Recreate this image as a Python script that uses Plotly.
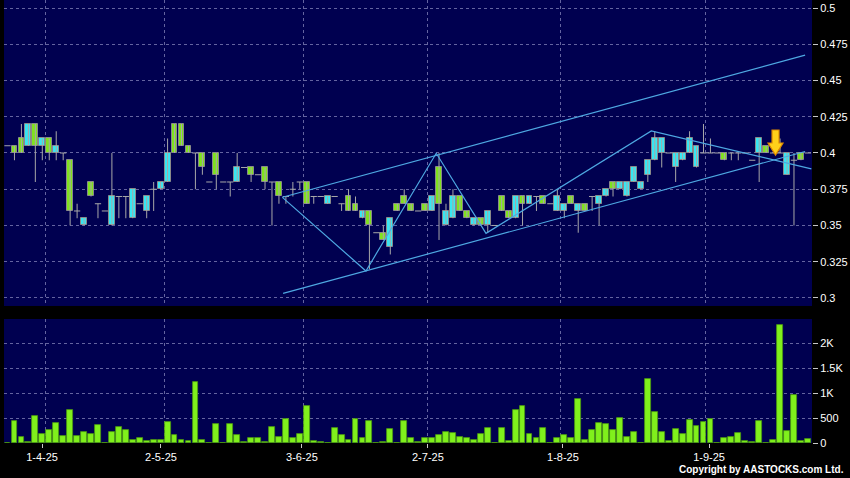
import plotly.graph_objects as go

# ---------------- data (bar index 0..115) ----------------
opens = [0.405, 0.405, 0.41, 0.405, 0.42, 0.405, 0.41, 0.40, 0.40, 0.395,
         0.36, 0.35, 0.38, 0.365, 0.36, 0.35, 0.37, 0.37, 0.355, 0.365,
         0.36, 0.375, 0.375, 0.38, 0.42, 0.42, 0.405, 0.40, 0.40, 0.38,
         0.40, 0.38, 0.38, 0.38, 0.39, 0.39, 0.385, 0.39, 0.38, 0.38,
         0.37, 0.375, 0.38, 0.38, 0.37, 0.37, 0.365, 0.37, 0.365, 0.37,
         0.365, 0.355, 0.36, 0.345, 0.345, 0.335, 0.365, 0.37, 0.365, 0.36,
         0.365, 0.36, 0.39, 0.35, 0.355, 0.37, 0.36, 0.35, 0.355, 0.35,
         0.35, 0.37, 0.36, 0.355, 0.37, 0.365, 0.37, 0.37, 0.365, 0.36,
         0.36, 0.37, 0.36, 0.365, 0.37, 0.365, 0.37, 0.38, 0.375, 0.37,
         0.38, 0.375, 0.385, 0.395, 0.40, 0.40, 0.39, 0.395, 0.40, 0.39,
         0.40, 0.40, 0.40, 0.40, 0.40, 0.40, 0.40, 0.395, 0.40, 0.405,
         0.40, 0.40, 0.385, 0.395, 0.40, 0.40]
closes = [0.405, 0.40, 0.40, 0.42, 0.405, 0.41, 0.40, 0.405, 0.40, 0.36,
          0.36, 0.355, 0.37, 0.365, 0.36, 0.37, 0.37, 0.37, 0.375, 0.365,
          0.37, 0.375, 0.38, 0.40, 0.40, 0.405, 0.40, 0.40, 0.39, 0.38,
          0.385, 0.38, 0.38, 0.39, 0.39, 0.385, 0.385, 0.38, 0.38, 0.37,
          0.37, 0.375, 0.38, 0.365, 0.37, 0.37, 0.37, 0.37, 0.365, 0.36,
          0.36, 0.36, 0.35, 0.345, 0.34, 0.355, 0.36, 0.365, 0.36, 0.36,
          0.36, 0.37, 0.365, 0.36, 0.37, 0.36, 0.355, 0.355, 0.35, 0.36,
          0.35, 0.36, 0.355, 0.37, 0.365, 0.37, 0.37, 0.365, 0.365, 0.37,
          0.365, 0.365, 0.365, 0.36, 0.37, 0.37, 0.375, 0.375, 0.38, 0.38,
          0.39, 0.38, 0.395, 0.41, 0.41, 0.40, 0.40, 0.40, 0.41, 0.405,
          0.40, 0.40, 0.40, 0.395, 0.40, 0.40, 0.40, 0.395, 0.41, 0.40,
          0.40, 0.40, 0.40, 0.395, 0.395, 0.40]
highs = [0.405, 0.405, 0.42, 0.42, 0.42, 0.41, 0.41, 0.415, 0.40, 0.395,
         0.365, 0.355, 0.38, 0.365, 0.36, 0.40, 0.37, 0.37, 0.375, 0.365,
         0.37, 0.38, 0.38, 0.41, 0.42, 0.42, 0.405, 0.40, 0.40, 0.38,
         0.40, 0.38, 0.38, 0.40, 0.39, 0.39, 0.385, 0.39, 0.38, 0.38,
         0.37, 0.38, 0.38, 0.38, 0.37, 0.37, 0.37, 0.37, 0.365, 0.375,
         0.37, 0.36, 0.36, 0.345, 0.35, 0.355, 0.365, 0.375, 0.365, 0.36,
         0.365, 0.37, 0.40, 0.365, 0.375, 0.37, 0.36, 0.355, 0.355, 0.36,
         0.35, 0.37, 0.36, 0.37, 0.37, 0.37, 0.37, 0.37, 0.365, 0.375,
         0.365, 0.37, 0.365, 0.365, 0.37, 0.37, 0.375, 0.38, 0.38, 0.38,
         0.39, 0.38, 0.395, 0.415, 0.41, 0.40, 0.40, 0.40, 0.415, 0.405,
         0.42, 0.41, 0.40, 0.40, 0.40, 0.40, 0.40, 0.395, 0.41, 0.405,
         0.40, 0.41, 0.40, 0.40, 0.40, 0.40]
lows = [0.405, 0.395, 0.40, 0.405, 0.38, 0.395, 0.395, 0.395, 0.395, 0.35,
        0.355, 0.35, 0.37, 0.355, 0.36, 0.35, 0.355, 0.355, 0.355, 0.365,
        0.355, 0.36, 0.375, 0.38, 0.40, 0.405, 0.40, 0.375, 0.385, 0.38,
        0.375, 0.38, 0.37, 0.38, 0.39, 0.38, 0.385, 0.375, 0.35, 0.365,
        0.365, 0.37, 0.375, 0.365, 0.365, 0.37, 0.365, 0.37, 0.36, 0.36,
        0.36, 0.355, 0.32, 0.345, 0.34, 0.33, 0.36, 0.365, 0.36, 0.36,
        0.36, 0.36, 0.34, 0.35, 0.355, 0.36, 0.355, 0.35, 0.35, 0.345,
        0.35, 0.36, 0.355, 0.355, 0.35, 0.365, 0.36, 0.365, 0.365, 0.36,
        0.355, 0.365, 0.345, 0.36, 0.36, 0.35, 0.37, 0.37, 0.375, 0.37,
        0.38, 0.375, 0.38, 0.395, 0.39, 0.40, 0.38, 0.395, 0.40, 0.39,
        0.40, 0.40, 0.40, 0.395, 0.395, 0.395, 0.40, 0.395, 0.38, 0.40,
        0.40, 0.40, 0.385, 0.35, 0.395, 0.40]
volumes = [0, 433, 113, 30, 547, 173, 253, 393, 133, 660,
           133, 220, 187, 360, 0, 220, 327, 267, 60, 100,
           33, 67, 60, 413, 153, 67, 47, 1220, 67, 10,
           380, 0, 387, 153, 20, 107, 100, 20, 313, 127,
           480, 100, 180, 740, 40, 27, 7, 300, 153, 60,
           473, 100, 447, 0, 20, 273, 7, 447, 100, 27,
           93, 93, 153, 220, 200, 127, 93, 60, 173, 300,
           0, 293, 47, 660, 740, 173, 93, 300, 0, 100,
           167, 107, 880, 53, 253, 407, 387, 267, 493, 113,
           220, 0, 1273, 613, 213, 47, 283, 180, 453, 340,
           427, 473, 0, 100, 120, 193, 47, 13, 433, 10,
           60, 2353, 233, 953, 47, 80]

date_labels = ["1-4-25", "2-5-25", "3-6-25", "2-7-25", "1-8-25", "1-9-25"]
date_pos = [4.96, 22.05, 42.3, 60.4, 79.8, 100.8]
grid_pos = [5.4, 22.5, 42.5, 60.4, 79.5, 100.3]

price_ticks = [0.3, 0.325, 0.35, 0.375, 0.4, 0.425, 0.45, 0.475, 0.5]
price_labels = ["0.3", "0.325", "0.35", "0.375", "0.4", "0.425", "0.45", "0.475", "0.5"]
vol_ticks = [0, 500, 1000, 1500, 2000]
vol_labels = ["0", "500", "1K", "1.5K", "2K"]

# drawn trend lines (bar index, price)
upper_x = [39.5, 114.6]
upper_y = [0.3695, 0.4675]
lower_x = [39.6, 114.6]
lower_y = [0.3032, 0.4010]
zig_x = [39.5, 51.5, 61.6, 68.75, 92.5, 115.5]
zig_y = [0.3694, 0.3186, 0.3998, 0.3446, 0.4152, 0.3890]
signal_x, signal_y = 110.35, 0.3986

# ---------------- styling ----------------
NAVY = "#000050"
CYAN = "#38e6f2"
GREEN = "#80e21e"
VGREEN = "#80f01c"
WICK = "#a8a8a8"
GRID = "#6464a0"
TREND = "#4ea8e2"

n = len(opens)
idx = list(range(n))

fig = go.Figure()

# wicks and doji lines
wx, wy = [], []
for i in idx:
    if highs[i] > lows[i]:
        wx += [i, i, None]
        wy += [lows[i], highs[i], None]
    if opens[i] == closes[i]:
        wx += [i - 0.45, i + 0.45, None]
        wy += [opens[i], opens[i], None]
fig.add_trace(go.Scatter(x=wx, y=wy, mode="lines", line=dict(color=WICK, width=1),
                         hoverinfo="skip", xaxis="x", yaxis="y"))

# bodies
for want, col in (("up", CYAN), ("down", GREEN)):
    bx, bb, bh = [], [], []
    for i in idx:
        o, c = opens[i], closes[i]
        if (want == "up" and c > o) or (want == "down" and c < o):
            bx.append(i)
            bb.append(min(o, c))
            bh.append(abs(c - o))
    fig.add_trace(go.Bar(x=bx, y=bh, base=bb, width=0.84,
                         marker=dict(color=col, line=dict(color="#8a8a8a", width=1)),
                         xaxis="x", yaxis="y", hoverinfo="skip"))

# trend lines
for tx, ty in ((upper_x, upper_y), (lower_x, lower_y), (zig_x, zig_y)):
    fig.add_trace(go.Scatter(x=tx, y=ty, mode="lines", line=dict(color=TREND, width=1.2),
                             hoverinfo="skip", xaxis="x", yaxis="y"))

# volume
fig.add_trace(go.Bar(x=idx, y=volumes, width=0.84,
                     marker=dict(color=VGREEN, line=dict(color="#4c9a10", width=0.8)),
                     xaxis="x2", yaxis="y2", hoverinfo="skip"))

# signal arrow (pixel offsets converted to data units)
PX_X = 1 / 6.96
PX_Y = 1 / 1450.0
pts = [(-3.5, 25), (3.5, 25), (3.5, 12), (7.5, 12), (0, 0), (-7.5, 12), (-3.5, 12)]
path = "M " + " L ".join(f"{signal_x + dx * PX_X:.4f},{signal_y + dy * PX_Y:.5f}" for dx, dy in pts) + " Z"
fig.add_shape(type="path", path=path, xref="x", yref="y",
              fillcolor="#ffd01a", line=dict(color="#e08a00", width=1.2))

grid_common = dict(showgrid=True, gridcolor=GRID, gridwidth=1, griddash="3px,3px")

fig.update_layout(
    width=850, height=478,
    margin=dict(l=4, r=38, t=0, b=35, autoexpand=False),
    paper_bgcolor="black", plot_bgcolor=NAVY,
    showlegend=False, barmode="overlay", bargap=0,
    font=dict(family="Liberation Sans, Arial, sans-serif", color="white", size=11),
    xaxis=dict(domain=[0, 1], anchor="y", range=[-0.503, 115.59],
               showticklabels=False, showgrid=False, zeroline=False, ticks="",
               minor=dict(tickmode="array", tickvals=grid_pos, ticks="", **grid_common)),
    yaxis=dict(domain=[0.3093, 1.0], anchor="x", side="right",
               range=[0.29448, 0.50552], tickmode="array", tickvals=price_ticks,
               ticktext=price_labels, ticks="outside", ticklen=5, tickcolor="#c8c8c8",
               zeroline=False, **grid_common),
    xaxis2=dict(domain=[0, 1], anchor="y2", range=[-0.503, 115.59], matches="x",
                tickmode="array", tickvals=date_pos, ticktext=date_labels,
                ticks="outside", ticklen=4, tickcolor="#c8c8c8",
                showgrid=False, zeroline=False,
                minor=dict(tickmode="array", tickvals=grid_pos, ticks="", **grid_common)),
    yaxis2=dict(domain=[0, 0.2799], anchor="x2", side="right",
                range=[0, 2480], tickmode="array", tickvals=vol_ticks, ticktext=vol_labels,
                ticks="outside", ticklen=5, tickcolor="#c8c8c8",
                zeroline=False, **grid_common),
)

fig.add_annotation(text="<b>Copyright by AASTOCKS.com Ltd.</b>", xref="paper", yref="paper",
                   x=1, y=0, xanchor="right", yanchor="middle", xshift=34, yshift=-26,
                   showarrow=False, font=dict(size=10, color="white"))

fig.write_html("out.html", config={"displayModeBar": False},
               post_script="document.body.style.margin='0px';document.body.style.background='black';")
